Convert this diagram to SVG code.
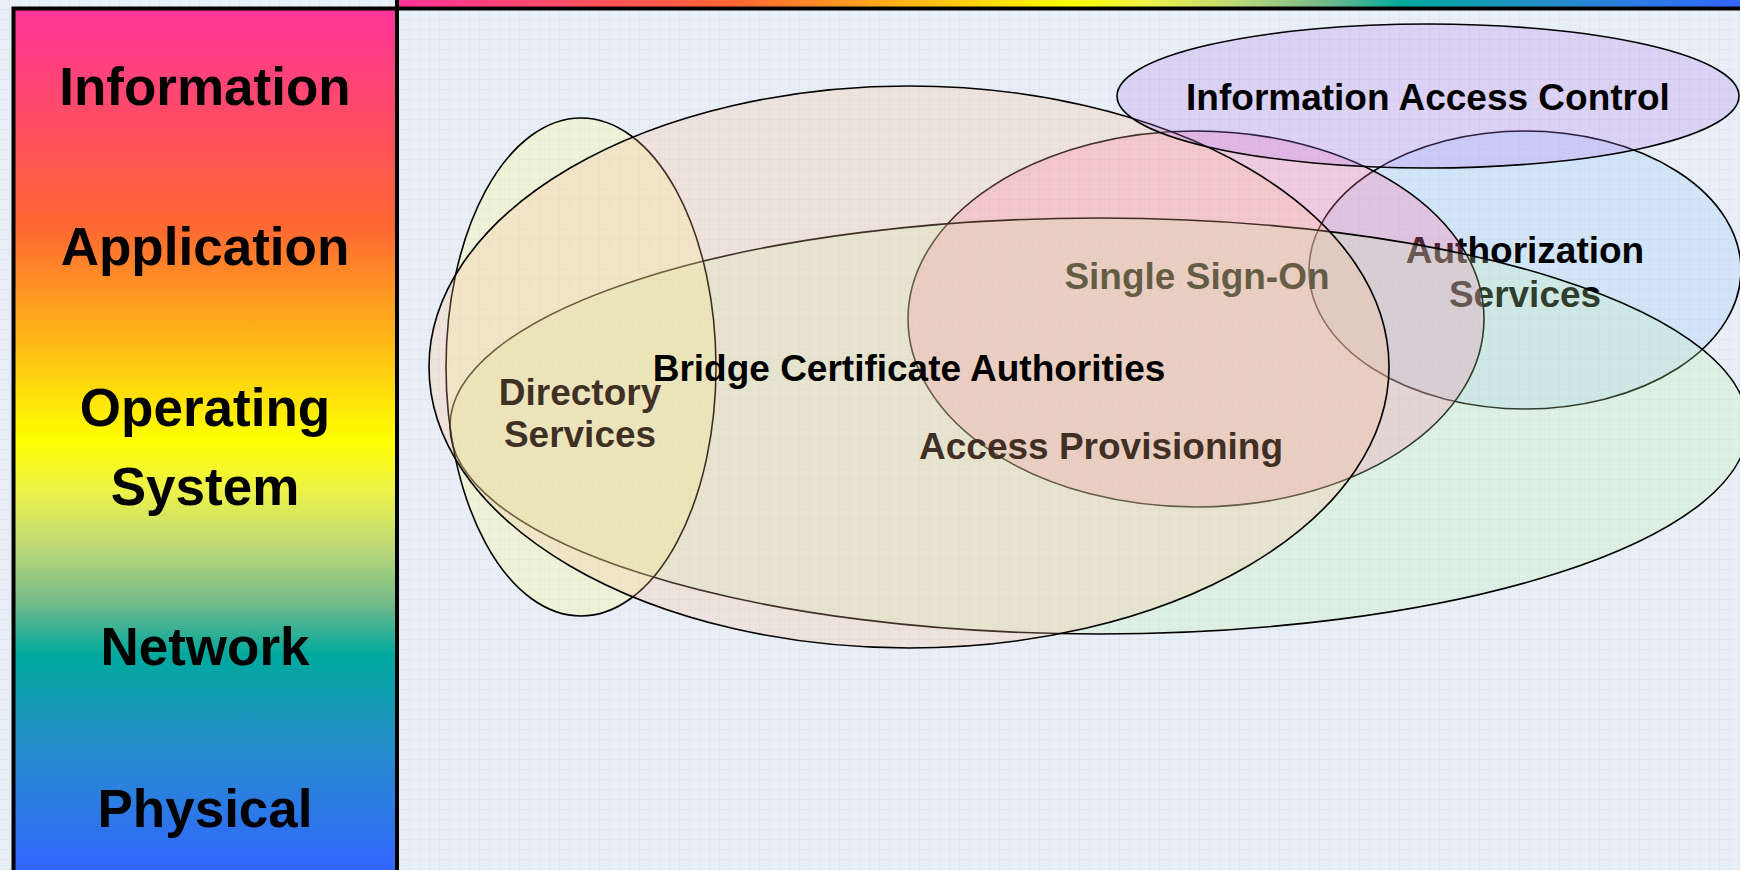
<svg xmlns="http://www.w3.org/2000/svg" width="1740" height="870" viewBox="0 0 1740 870">
  <defs>
    <!-- pale blue grid paper backdrop -->
    <pattern id="grid" width="10" height="10" patternUnits="userSpaceOnUse">
      <rect width="10" height="10" fill="#E9EFF6"/>
      <path d="M10 0V10M0 10H10" stroke="#D7E1EC" stroke-width="1" fill="none"/>
    </pattern>
    <!-- rainbow scale used for the layer column and the header bar -->
    <linearGradient id="rainbowV" gradientUnits="userSpaceOnUse" x1="0" y1="9" x2="0" y2="870">
      <stop offset="0" stop-color="#FF3399"/>
      <stop offset="0.25" stop-color="#FF6633"/>
      <stop offset="0.5" stop-color="#FFFF00"/>
      <stop offset="0.56" stop-color="#ECF24A"/>
      <stop offset="0.625" stop-color="#BCD977"/>
      <stop offset="0.69" stop-color="#74BA8A"/>
      <stop offset="0.75" stop-color="#00A99D"/>
      <stop offset="0.85" stop-color="#2490C8"/>
      <stop offset="1" stop-color="#3366FF"/>
    </linearGradient>
    <linearGradient id="rainbowH" gradientUnits="userSpaceOnUse" x1="397" y1="0" x2="1740" y2="0">
      <stop offset="0" stop-color="#FF3399"/>
      <stop offset="0.25" stop-color="#FF6633"/>
      <stop offset="0.5" stop-color="#FFFF00"/>
      <stop offset="0.56" stop-color="#ECF24A"/>
      <stop offset="0.625" stop-color="#BCD977"/>
      <stop offset="0.69" stop-color="#74BA8A"/>
      <stop offset="0.75" stop-color="#00A99D"/>
      <stop offset="0.85" stop-color="#2490C8"/>
      <stop offset="1" stop-color="#3366FF"/>
    </linearGradient>
  </defs>
  <style>
    .layer { font-family: "Liberation Sans", Arial, sans-serif; font-weight: bold; font-size: 53px; fill: #000; text-anchor: middle; }
    .lbl { font-family: "Liberation Sans", Arial, sans-serif; font-weight: bold; font-size: 37px; fill: #000; text-anchor: middle; }
    .oval { stroke: #000; stroke-width: 1.6; fill-opacity: 0.25; }
  </style>

  <rect width="1740" height="870" fill="url(#grid)"/>

  <!-- layer column -->
  <g id="layers">
    <rect x="13.5" y="8.5" width="383.5" height="880" fill="url(#rainbowV)" stroke="#000" stroke-width="4"/>
    <rect x="397" y="-12" width="1360" height="20.5" fill="url(#rainbowH)" stroke="#000" stroke-width="4"/>
    <text class="layer" x="205" y="105">Information</text>
    <text class="layer" x="205" y="265">Application</text>
    <text class="layer" x="205" y="426">Operating</text>
    <text class="layer" x="205" y="505">System</text>
    <text class="layer" x="205" y="665">Network</text>
    <text class="layer" x="205" y="827">Physical</text>
  </g>

  <!-- overlapping service domains, back to front -->
  <g id="authorization">
    <ellipse class="oval" cx="1525" cy="270" rx="216" ry="139" fill="#91C3FE"/>
    <text class="lbl" x="1525" y="263">Authorization</text>
    <text class="lbl" x="1525" y="307">Services</text>
  </g>

  <g id="sso">
    <ellipse class="oval" cx="1196" cy="319" rx="288" ry="188" fill="#FF78A8" style="fill-opacity:0.3"/>
    <text class="lbl" x="1197" y="289">Single Sign-On</text>
  </g>

  <g id="provisioning">
    <ellipse class="oval" cx="1099" cy="426" rx="649" ry="208" fill="#C1F3AA"/>
    <text class="lbl" x="1101" y="459">Access Provisioning</text>
  </g>

  <g id="directory">
    <ellipse class="oval" cx="581" cy="367" rx="135" ry="249" fill="#FFFA80"/>
    <text class="lbl" x="580" y="405">Directory</text>
    <text class="lbl" x="580" y="447">Services</text>
  </g>

  <g id="bridge-ca">
    <ellipse class="oval" cx="909" cy="367" rx="480" ry="281" fill="#FFBB8E"/>
    <text class="lbl" x="909" y="381">Bridge Certificate Authorities</text>
  </g>

  <g id="info-access">
    <ellipse class="oval" cx="1428" cy="96" rx="311" ry="72" fill="#B57BF2"/>
    <text class="lbl" x="1428" y="110">Information Access Control</text>
  </g>
</svg>
